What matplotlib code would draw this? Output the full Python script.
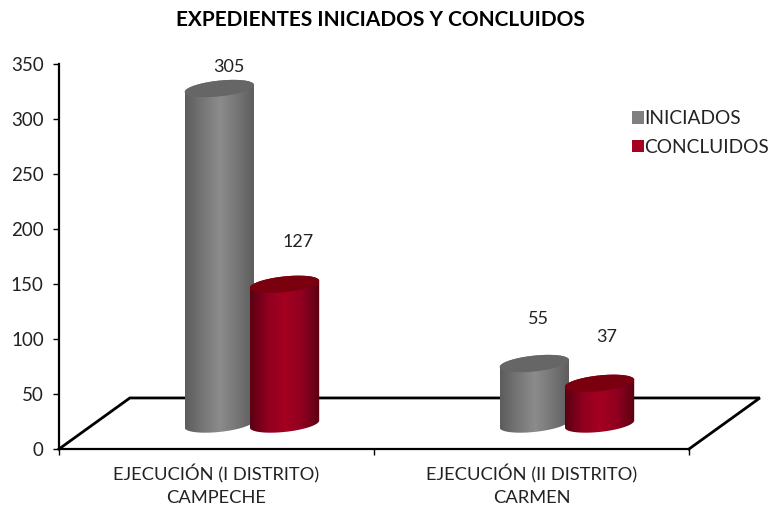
#!/usr/bin/env python3
# -*- coding: utf-8 -*-
import numpy as np
import matplotlib
matplotlib.use('Agg')
import matplotlib.pyplot as plt
from matplotlib.colors import LinearSegmentedColormap
from matplotlib.patches import Patch, Polygon

title = 'EXPEDIENTES INICIADOS Y CONCLUIDOS'
categories = ['EJECUCIÓN (I DISTRITO)\nCAMPECHE', 'EJECUCIÓN (II DISTRITO)\nCARMEN']
series_names = ['INICIADOS', 'CONCLUIDOS']
iniciados = [305, 55]
concluidos = [127, 37]
y_ticks = [0, 50, 100, 150, 200, 250, 300, 350]

# styling of the fake 3d look, in data units
bar_width = 0.22
bar_shift = [0.006, 0.213]
base_y = 22.7
ell_b = 7.2
ell_k = 3.2
floor_dx = 0.225
floor_dy = 46.4
gray_cols = ['#5c5c5c', '#767676', '#8c8c8c', '#767676', '#5c5c5c']
red_cols = ['#5a0012', '#900020', '#a50021', '#900020', '#5a0012']
top_cols = ['#666666', '#7a0010']
legend_cols = ['#808080', '#a50021']
txt = '#222222'
# offset of the value labels in pixels from the top of each bar
label_off = [[(10, 47), (15, 67)], [(5, 69), (8, 71)]]

plt.rcParams['font.family'] = ['Lato', 'DejaVu Sans']

fig = plt.figure(figsize=(7.71, 5.08), dpi=100)
ax = fig.add_axes([59 / 771, (508 - 449) / 508, 630 / 771, 385 / 508])
ax.set_xlim(0, 2)
ax.set_ylim(0, 350)


def cylinder(x0, val, cols, top_col):
    cmap = LinearSegmentedColormap.from_list('c', cols)
    t = np.linspace(0, 2 * np.pi, 120)
    a = bar_width / 2
    cx = x0 + a
    top = base_y + val
    t_low = np.linspace(np.pi, 2 * np.pi, 60)
    t_up = np.linspace(0, np.pi, 60)
    xs = np.r_[cx + a * np.cos(t_low), cx + a * np.cos(t_up)]
    ys = np.r_[base_y + ell_k * np.cos(t_low) + ell_b * np.sin(t_low),
               top + ell_k * np.cos(t_up) + ell_b * np.sin(t_up)]
    body = Polygon(np.c_[xs, ys], closed=True, fc='none', ec='none', transform=ax.transData)
    ax.add_patch(body)
    im = ax.imshow(np.linspace(0, 1, 128).reshape(1, -1), cmap=cmap, aspect='auto',
                   interpolation='bilinear', extent=(x0, x0 + bar_width, 0, 350), zorder=3)
    im.set_clip_path(body)
    ax.fill(cx + a * np.cos(t), top + ell_k * np.cos(t) + ell_b * np.sin(t),
            color=top_col, lw=0, zorder=3)


# floor of the chart
ax.plot([0, floor_dx, 2 + floor_dx, 2], [0, floor_dy, floor_dy, 0], color='black',
        lw=2, clip_on=False, zorder=2, solid_joinstyle='miter')

for i in range(len(categories)):
    cylinder(i + 0.393 + bar_shift[0], iniciados[i], gray_cols, top_cols[0])
    cylinder(i + 0.393 + bar_shift[1], concluidos[i], red_cols, top_cols[1])
    for j, val in enumerate([iniciados[i], concluidos[i]]):
        ax.annotate(str(val), xy=(i + 0.5 + bar_shift[j] - 0.11 + bar_width / 2, val),
                    xytext=(label_off[i][j][0] * 0.72, label_off[i][j][1] * 0.72),
                    textcoords='offset points', ha='center', va='center',
                    fontsize=13, color=txt, zorder=5)

ax.set_xlim(0, 2)
ax.set_ylim(0, 350)

for s in ['top', 'right']:
    ax.spines[s].set_visible(False)
for s in ['left', 'bottom']:
    ax.spines[s].set_linewidth(1.6)
ax.set_yticks(y_ticks)
ax.set_xticks([0, 1, 2])
ax.set_xticklabels([])
ax.set_xticks([0.5, 1.5], minor=True)
ax.set_xticklabels(categories, minor=True, fontsize=13.2, color=txt, linespacing=1.5)
ax.tick_params(axis='x', which='minor', length=0, pad=11)
ax.tick_params(axis='x', which='major', length=4, width=1)
ax.tick_params(axis='y', length=4, width=1, labelsize=13.5, labelcolor=txt, pad=7)

fig.text(380.5 / 771, 1 - 20 / 508, title, ha='center', va='center', fontsize=15,
         fontweight='bold', color='black')

handles = [Patch(fc=legend_cols[0], lw=0), Patch(fc=legend_cols[1], lw=0)]
fig.legend(handles, series_names, loc='upper left', bbox_to_anchor=(631.5 / 771, 1 - 110 / 508),
           frameon=False, fontsize=13.8, labelcolor=txt, handlelength=0.63, handleheight=0.63,
           handletextpad=0.05, labelspacing=0.62, borderpad=0, borderaxespad=0)

fig.savefig('out.png', dpi=100)
